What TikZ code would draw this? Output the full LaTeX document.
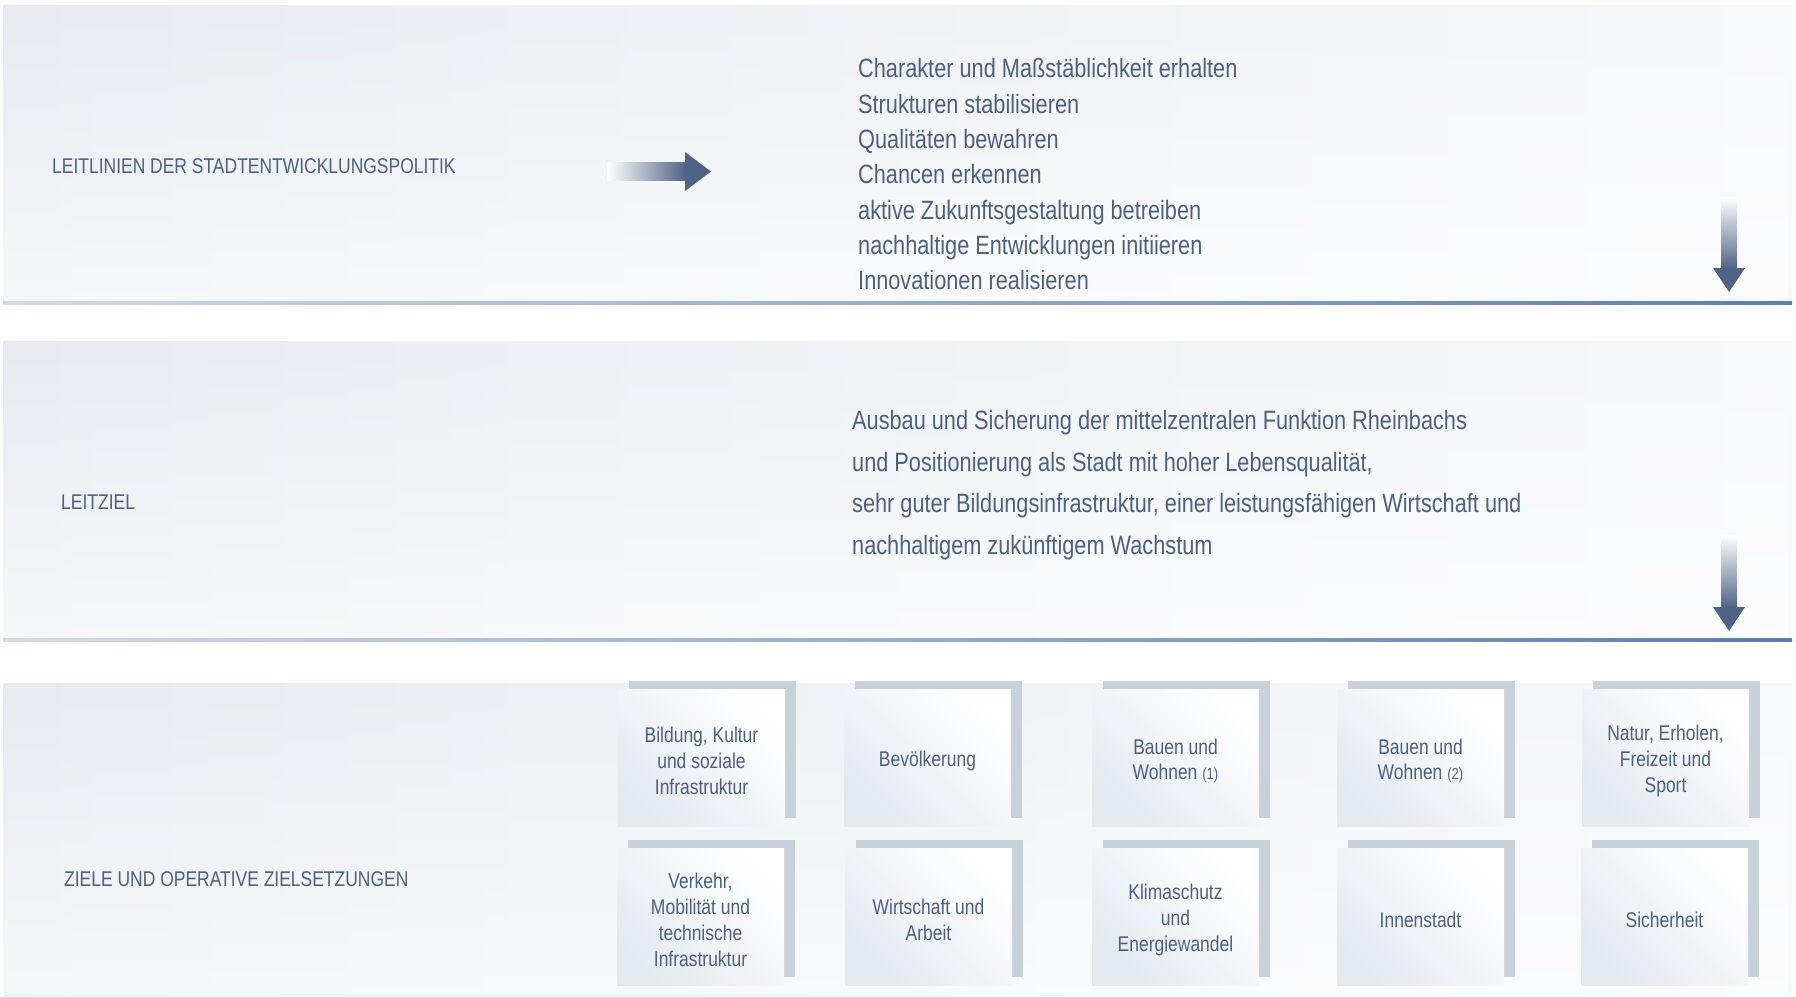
\documentclass[tikz,border=0pt]{standalone}
\usepackage{fontspec}
\usetikzlibrary{fadings}
\setmainfont[FakeStretch=0.82]{Liberation Sans}
\definecolor{textc}{HTML}{4D6082}
\definecolor{arrowc}{HTML}{4F6386}
\definecolor{framec}{HTML}{C8D0DA}
\definecolor{panell}{HTML}{E7EBF0}
\definecolor{panelr}{HTML}{F7F8FA}
\definecolor{boxg}{HTML}{E4E9EF}
\definecolor{linel}{HTML}{D3DBE5}
\definecolor{lineb}{HTML}{5A7FAE}
\newcommand\headfont{\fontsize{21.3pt}{25pt}\selectfont}
\newcommand\bigfont{\fontsize{26.5pt}{30pt}\selectfont}
\newcommand\boxfont{\fontsize{21.3pt}{25.8pt}\selectfont}
\newcommand\smallnum[1]{{\fontsize{16pt}{20pt}\selectfont #1}}
\newcommand\zbox[4]{%
  \fill[framec] (#2+11,#3-8.5) rectangle (#2+178,#3+128.5);
  \node[boxsq] (#1) at (#2+83.5,#3+68.5) {};
  \node[boxtxt] (#1t) at (#2+83.5,#3+72) {#4};
}
\newcommand\panelrect[2]{%
  \shade[left color=panell, right color=panelr] (3,#1) rectangle (1792,#2);
  \fill[white, path fading=north, fill opacity=0.6] (3,#1) rectangle (1792,#2);
}
\begin{document}
\begin{tikzpicture}[x=1pt,y=-1pt,
  head/.style={text=textc, inner sep=0pt, anchor=base west, font=\headfont},
  bigtxt/.style={text=textc, inner sep=0pt, anchor=base west, font=\bigfont},
  boxsq/.style={minimum width=167pt, minimum height=137pt, inner sep=0pt,
    top color=white, bottom color=boxg, shading angle=-45},
  boxtxt/.style={inner sep=0pt, text=textc, align=center, font=\boxfont}]
\useasboundingbox (0,0) rectangle (1796,996);
\fill[white] (0,0) rectangle (1796,996);
% panels
\panelrect{5}{302}
\panelrect{341}{640}
\panelrect{683}{995}
% bottom lines
\shade[left color=linel, right color=lineb] (3,301) rectangle (1792,304);
\shade[left color=linel, right color=lineb] (3,638) rectangle (1792,641);
% headings
\node[head] (h1) at (52,173.3) {LEITLINIEN DER STADTENTWICKLUNGSPOLITIK};
\node[head] (h2) at (61,509.3) {LEITZIEL};
\node[head] (h3) at (64,886) {ZIELE UND OPERATIVE ZIELSETZUNGEN};
% right arrow
\shade[left color=white, right color=arrowc] (607,162.5) rectangle (686,180.5);
\fill[arrowc] (685,152) -- (711,171.5) -- (685,191) -- cycle;
% list
\foreach \i/\t in {1/{Charakter und Maßstäblichkeit erhalten},
  2/{Strukturen stabilisieren}, 3/{Qualitäten bewahren},
  4/{Chancen erkennen}, 5/{aktive Zukunftsgestaltung betreiben},
  6/{nachhaltige Entwicklungen initiieren}, 7/{Innovationen realisieren}}
  \node[bigtxt] (l\i) at (858,{77.8+35.3*(\i-1)}) {\t};
% leitziel text
\foreach \i/\t in {1/{Ausbau und Sicherung der mittelzentralen Funktion Rheinbachs},
  2/{und Positionierung als Stadt mit hoher Lebensqualität,},
  3/{sehr guter Bildungsinfrastruktur, einer leistungsfähigen Wirtschaft und},
  4/{nachhaltigem zukünftigem Wachstum}}
  \node[bigtxt] (z\i) at (852,{429.3+41.7*(\i-1)}) {\t};
% down arrows
\shade[top color=white, bottom color=arrowc] (1721,197) rectangle (1737,269);
\fill[arrowc] (1713,268) -- (1745,268) -- (1729,292) -- cycle;
\shade[top color=white, bottom color=arrowc] (1721,535) rectangle (1737,608);
\fill[arrowc] (1713,607) -- (1745,607) -- (1729,631) -- cycle;
% boxes row 1
\zbox{b1}{618}{689}{Bildung, Kultur\\und soziale\\Infrastruktur}
\zbox{b2}{844}{689}{Bevölkerung}
\zbox{b3}{1092}{689}{Bauen und\\Wohnen \smallnum{(1)}}
\zbox{b4}{1337}{689}{Bauen und\\Wohnen \smallnum{(2)}}
\zbox{b5}{1582}{689}{Natur, Erholen,\\Freizeit und\\Sport}
% boxes row 2
\zbox{c1}{617}{848}{Verkehr,\\Mobilität und\\technische\\Infrastruktur}
\zbox{c2}{845}{848}{Wirtschaft und\\Arbeit}
\zbox{c3}{1092}{848}{Klimaschutz\\und\\Energiewandel}
\zbox{c4}{1337}{848}{Innenstadt}
\zbox{c5}{1581}{848}{Sicherheit}
\end{tikzpicture}
\end{document}
